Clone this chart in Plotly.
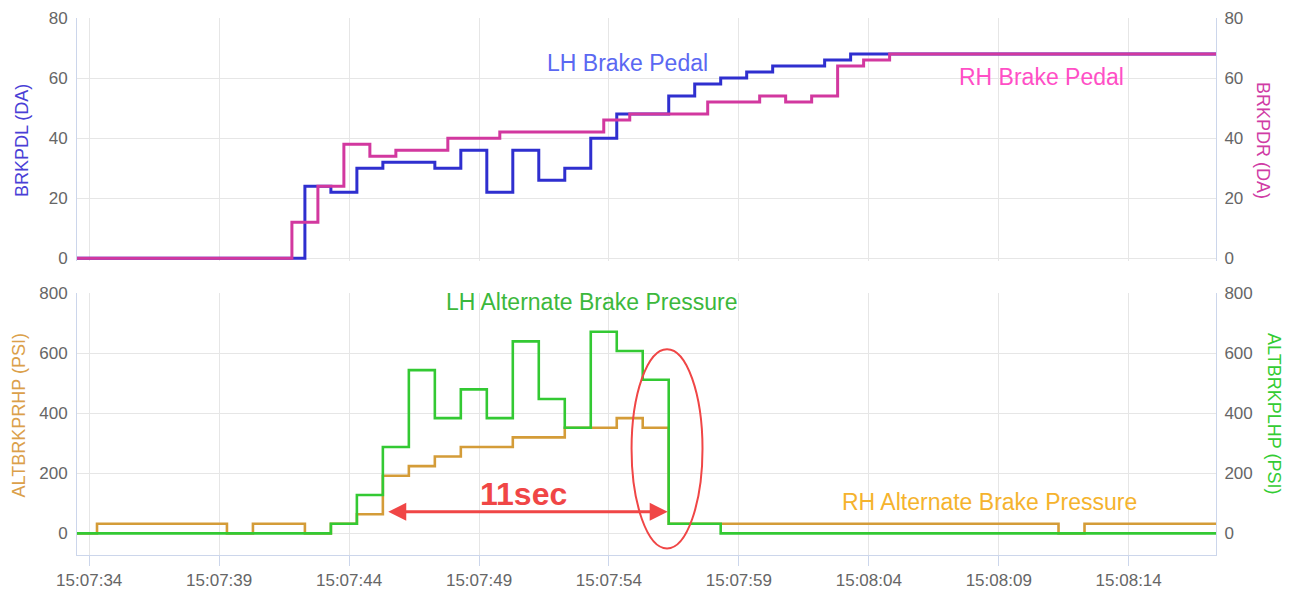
import pandas as pd
import plotly.graph_objects as go

# sample times are seconds after 15:07:00, values are step levels
BASE = pd.Timestamp("2019-01-01 15:07:00")

lh_pedal_t = [33.3, 42.3, 43.3, 44.3, 45.3, 47.3, 48.3, 49.3, 50.3, 51.3, 52.3, 53.3,
              54.3, 56.3, 57.3, 58.3, 59.3, 60.3, 62.3, 63.3, 78.0]
lh_pedal_v = [0, 24, 22, 30, 32, 30, 36, 22, 36, 26, 30, 40,
              48, 54, 58, 60, 62, 64, 66, 68, 68]

rh_pedal_t = [33.3, 41.8, 42.8, 43.8, 44.8, 45.8, 47.8, 49.8, 53.8, 54.8, 57.8, 59.8,
              60.8, 61.8, 62.8, 63.8, 64.8, 78.0]
rh_pedal_v = [0, 12, 24, 38, 34, 36, 40, 42, 46, 48, 52, 54,
              52, 54, 64, 66, 68, 68]

rh_press_t = [33.3, 34.3, 39.3, 40.3, 42.3, 43.3, 44.3, 45.3, 46.3, 47.3, 48.3, 50.3,
              52.3, 54.3, 55.3, 56.3, 71.3, 72.3, 78.0]
rh_press_v = [0, 32, 0, 32, 0, 32, 64, 192, 224, 256, 288, 320,
              352, 384, 352, 32, 0, 32, 32]

lh_press_t = [33.3, 43.3, 44.3, 45.3, 46.3, 47.3, 48.3, 49.3, 50.3, 51.3, 52.3, 53.3,
              54.3, 55.3, 56.3, 58.3, 78.0]
lh_press_v = [0, 32, 128, 288, 544, 384, 480, 384, 640, 448, 352, 672,
              608, 512, 32, 0, 0]

pedal_ticks = [0, 20, 40, 60, 80]
press_ticks = [0, 200, 400, 600, 800]


def ts(secs):
    if not isinstance(secs, (list, tuple)):
        return (BASE + pd.Timedelta(seconds=secs)).strftime("%Y-%m-%d %H:%M:%S.%f")
    return [ts(s) for s in secs]


FONT = "Liberation Sans, Arial, sans-serif"
GRID = "#e6e6e6"
AXLINE = "#ccd6eb"
RED = "#f04646"

fig = go.Figure()
fig.add_trace(go.Scatter(x=ts(lh_pedal_t), y=lh_pedal_v, mode="lines", line_shape="hv",
                         line=dict(color="#2f2fcf", width=3), xaxis="x2", yaxis="y"))
fig.add_trace(go.Scatter(x=ts(rh_pedal_t), y=rh_pedal_v, mode="lines", line_shape="hv",
                         line=dict(color="#d2389f", width=3), xaxis="x2", yaxis="y2"))
fig.add_trace(go.Scatter(x=ts(rh_press_t), y=rh_press_v, mode="lines", line_shape="hv",
                         line=dict(color="#d49c38", width=2.6), xaxis="x", yaxis="y3"))
fig.add_trace(go.Scatter(x=ts(lh_press_t), y=lh_press_v, mode="lines", line_shape="hv",
                         line=dict(color="#33c933", width=2.6), xaxis="x", yaxis="y4"))

xrange = [ts(33.53), ts(77.36)]
tickfont = dict(family=FONT, size=17, color="#666666")

fig.update_layout(
    width=1293, height=591,
    margin=dict(l=77, r=77, t=18, b=36, autoexpand=False),
    paper_bgcolor="white", plot_bgcolor="white",
    showlegend=False,
    font=dict(family=FONT),
    xaxis=dict(domain=[0, 1], anchor="y3", type="date", range=xrange,
               tick0=ts(34), dtick=5000, tickformat="%H:%M:%S",
               showgrid=True, gridcolor=GRID, showline=True, linecolor=AXLINE,
               ticks="outside", ticklen=10, tickcolor=AXLINE, tickfont=tickfont,
               zeroline=False, automargin=False),
    xaxis2=dict(domain=[0, 1], anchor="y", type="date", range=xrange, matches="x",
                tick0=ts(34), dtick=5000, showticklabels=False, automargin=False,
                showgrid=True, gridcolor=GRID, showline=False, zeroline=False),
    yaxis=dict(domain=[0.547, 1], anchor="x2", range=[-1, 80], tickvals=pedal_ticks,
               gridcolor=GRID, showline=True, linecolor=AXLINE, zeroline=False,
               tickfont=tickfont, ticklabelstandoff=5, automargin=False),
    yaxis2=dict(overlaying="y", side="right", anchor="x2", range=[-1, 80],
                tickvals=pedal_ticks, showgrid=False, showline=True, linecolor=AXLINE,
                zeroline=False, tickfont=tickfont, ticklabelstandoff=4, automargin=False),
    yaxis3=dict(domain=[0, 0.4873], anchor="x", range=[-72, 800], tickvals=press_ticks,
                gridcolor=GRID, showline=True, linecolor=AXLINE, zeroline=False,
                tickfont=tickfont, ticklabelstandoff=5, automargin=False),
    yaxis4=dict(overlaying="y3", side="right", anchor="x", range=[-72, 800],
                tickvals=press_ticks, showgrid=False, showline=True, linecolor=AXLINE,
                zeroline=False, tickfont=tickfont, ticklabelstandoff=4, automargin=False),
)

# axis titles
for text, x, y, ang, col in [
    ("BRKPDL (DA)", -0.0483, 0.7728, -90, "#4a3fd6"),
    ("BRKPDR (DA)", 1.0413, 0.7728, 90, "#d03ca5"),
    ("ALTBRKPRHP (PSI)", -0.0505, 0.2607, -90, "#dba04a"),
    ("ALTBRKPLHP (PSI)", 1.0509, 0.2626, 90, "#33cc33"),
]:
    fig.add_annotation(text=text, x=x, y=y, xref="paper", yref="paper", textangle=ang,
                       xanchor="center", yanchor="middle", showarrow=False,
                       font=dict(size=18, color=col, family=FONT))

# series labels
labels = [
    ("LH Brake Pedal", 54.73, 65, "y", "#5b68f2"),
    ("RH Brake Pedal", 70.63, 60.5, "y", "#ff4fc6"),
    ("LH Alternate Brake Pressure", 53.33, 772, "y3", "#3cb83c"),
    ("RH Alternate Brake Pressure", 68.65, 105, "y3", "#f5b32d"),
]
for text, x, y, yref, col in labels:
    xref = "x2" if yref == "y" else "x"
    fig.add_annotation(text=text, x=ts(x), y=y, xref=xref, yref=yref, showarrow=False,
                       xanchor="center", yanchor="middle",
                       font=dict(size=23, color=col, family=FONT))

# 11 sec callout
fig.add_annotation(text="<b>11sec</b>", x=ts(50.72), y=131, xref="x", yref="y3",
                   xanchor="center", yanchor="middle", showarrow=False,
                   font=dict(size=32, color=RED, family=FONT))
fig.add_annotation(x=ts(56.26), y=72, ax=ts(45.45), ay=72, xref="x", yref="y3",
                   axref="x", ayref="y3", text="", showarrow=True, arrowside="end+start",
                   arrowhead=2, arrowsize=1.2, arrowwidth=3, arrowcolor=RED)
fig.add_shape(type="circle", xref="x", yref="y3", x0=ts(54.87), x1=ts(57.6), y0=-50, y1=614,
              line=dict(color=RED, width=2))

# drop the default page margin so the figure fills the window exactly
fig.write_html("out.html", config={"displayModeBar": False},
               post_script="document.body.style.margin = '0px';")
